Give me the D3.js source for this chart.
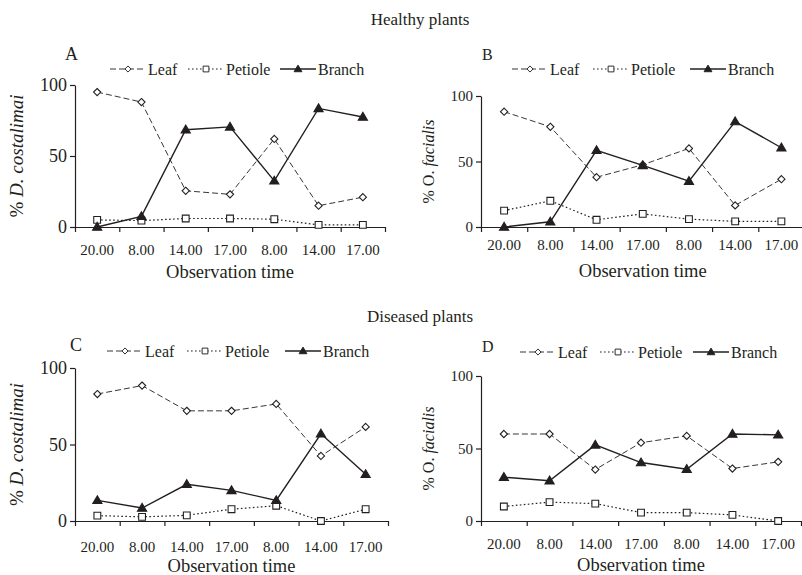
<!DOCTYPE html>
<html><head><meta charset="utf-8">
<script src="https://cdn.jsdelivr.net/npm/d3@7"></script>
<style>
html,body{margin:0;padding:0;background:#fff;}
svg{display:block;}
svg text{font-family:"Liberation Serif","Times New Roman",serif !important;}
</style></head>
<body>
<svg id="chart" width="802" height="575" font-family="Liberation Serif, serif"></svg>
<script>
// ---------- data ----------
const timeLabels = ["20.00", "8.00", "14.00", "17.00", "8.00", "14.00", "17.00"];
const yTicks = [0, 50, 100];
const seriesNames = ["Leaf", "Petiole", "Branch"];
const groupTitles = ["Healthy plants", "Diseased plants"];
const panelLetters = ["A", "B", "C", "D"];

// A: healthy, D. costalimai
const leafA    = [95, 88, 25.5, 23, 62, 15, 21];
const petioleA = [5, 4.5, 6, 6, 5.5, 1.5, 1.5];
const branchA  = [0, 7.5, 68.5, 70.5, 32.5, 83.5, 77.5];
// B: healthy, O. facialis
const leafB    = [88, 76.5, 38, 47.5, 60, 16.5, 36.5];
const petioleB = [12.5, 20, 5.5, 10, 6, 4.3, 4.3];
const branchB  = [0, 4, 58.5, 47, 35, 80.5, 60.5];
// C: diseased, D. costalimai
const leafC    = [83, 88.5, 72, 72, 76.5, 42.5, 61.5];
const petioleC = [3.5, 2.7, 3.7, 7.7, 10, 0, 7.7];
const branchC  = [13.5, 8.5, 24, 20, 13.5, 57, 30.5];
// D: diseased, O. facialis
const leafD    = [60, 60, 35.5, 54, 58.7, 36.2, 40.8];
const petioleD = [10, 13, 12, 5.8, 5.8, 4.2, 0];
const branchD  = [30.2, 27.8, 52.5, 40.3, 35.7, 60, 59.4];

// ---------- layout (positions/styles) ----------
const INK = "#231f20";
const FONT = "Liberation Serif, serif";
const panels = [
  {letter: panelLetters[0], species: "D. costalimai", data: [leafA, petioleA, branchA],
   x0: 75, x1: 385, yTop: 85, yBot: 227, yTickFont: 18, yLabelFont: 19, yLabelX: 16,
   tickBase: 255, titleBase: 278, letterPos: [65, 60], letterFont: 18,
   legendY: 69, legendX: [110, 188, 280]},
  {letter: panelLetters[1], species: "facialis", pre: "% O. ", data: [leafB, petioleB, branchB],
   x0: 481, x1: 804.5, yTop: 96, yBot: 227, yTickFont: 15, yLabelFont: 16, yLabelX: 428,
   tickBase: 250, titleBase: 277, letterPos: [482, 60], letterFont: 16,
   legendY: 69, legendX: [512, 593, 690]},
  {letter: panelLetters[2], species: "D. costalimai", data: [leafC, petioleC, branchC],
   x0: 75, x1: 388, yTop: 368, yBot: 521, yTickFont: 18, yLabelFont: 19, yLabelX: 16,
   tickBase: 552, titleBase: 572, letterPos: [70, 351], letterFont: 18,
   legendY: 351, legendX: [107, 187, 285]},
  {letter: panelLetters[3], species: "facialis", pre: "% O. ", data: [leafD, petioleD, branchD],
   x0: 481, x1: 801, yTop: 376, yBot: 521, yTickFont: 15, yLabelFont: 16, yLabelX: 428,
   tickBase: 549, titleBase: 571, letterPos: [482, 352], letterFont: 16,
   legendY: 352, legendX: [520, 600, 693]}
];
const styles = [
  {dash: "6,3", width: 0.9, marker: "diamond"},
  {dash: "1.6,2.4", width: 1.2, marker: "square"},
  {dash: null, width: 1.4, marker: "triangle"}
];
const markerPath = {
  diamond: "M0,-3.6L3.6,0L0,3.6L-3.6,0Z",
  square: "M-3.4,-3.4H3.4V3.4H-3.4Z",
  triangle: "M0,-4.6L4.6,3.2H-4.6Z"
};

const svg = d3.select("#chart");
svg.append("rect").attr("width", 802).attr("height", 575).attr("fill", "#fff");

function txt(parent) {
  return parent.append("text").attr("font-family", FONT).attr("fill", INK);
}

// group titles
txt(svg).attr("x", 420).attr("y", 25).attr("text-anchor", "middle")
  .attr("font-size", 17).text(groupTitles[0]);
txt(svg).attr("x", 420).attr("y", 322).attr("text-anchor", "middle")
  .attr("font-size", 17).text(groupTitles[1]);

function drawMarker(g, type, filled) {
  return g.append("path").attr("d", markerPath[type])
    .attr("fill", filled ? INK : "#fff").attr("stroke", INK).attr("stroke-width", 1.1);
}

panels.forEach(p => {
  const g = svg.append("g").attr("font-family", FONT);
  const idx = d3.range(timeLabels.length);
  const xBand = d3.scaleBand().domain(idx).range([p.x0, p.x1]).padding(0);
  const xLin = d3.scaleLinear().domain([0, timeLabels.length]).range([p.x0, p.x1]);
  const y = d3.scaleLinear().domain([0, 100]).range([p.yBot, p.yTop]);

  // y axis
  const ya = g.append("g").attr("transform", `translate(${p.x0},0)`)
    .call(d3.axisLeft(y).tickValues(yTicks).tickSize(5).tickSizeOuter(0).tickPadding(3));
  ya.attr("font-family", FONT);
  ya.selectAll("text").attr("font-size", p.yTickFont).attr("font-family", FONT).attr("fill", INK);
  ya.selectAll("line,path").attr("stroke", INK).attr("stroke-width", 1.2);

  // x axis: boundary ticks
  const xa = g.append("g").attr("transform", `translate(0,${p.yBot})`)
    .call(d3.axisBottom(xLin).tickValues(d3.range(timeLabels.length + 1)).tickSize(5)
      .tickSizeOuter(0).tickFormat(""));
  xa.selectAll("line,path").attr("stroke", INK).attr("stroke-width", 1.2);
  // x labels at band centres
  const xl = g.append("g").attr("transform", `translate(0,${p.yBot})`)
    .call(d3.axisBottom(xBand).tickSize(0).tickFormat(i => timeLabels[i]));
  xl.attr("font-family", FONT);
  xl.select("path").remove();
  xl.selectAll("text").attr("y", p.tickBase - p.yBot).attr("dy", 0)
    .attr("font-size", 15).attr("font-family", FONT).attr("fill", INK);

  // axis titles
  const cx = (p.x0 + p.x1) / 2;
  txt(g).attr("x", cx).attr("y", p.titleBase).attr("text-anchor", "middle")
    .attr("font-size", 18.5).text("Observation time");
  const cy = (p.yTop + p.yBot) / 2;
  const yt = txt(g).attr("transform", `translate(${p.yLabelX},${cy}) rotate(-90)`)
    .attr("text-anchor", "middle").attr("dominant-baseline", "central")
    .attr("font-size", p.yLabelFont);
  yt.append("tspan").text(p.pre ? p.pre : "% ");
  yt.append("tspan").attr("font-style", "italic").text(p.species);

  // panel letter
  txt(g).attr("x", p.letterPos[0]).attr("y", p.letterPos[1])
    .attr("font-size", p.letterFont).text(p.letter);

  // series
  const cxOf = i => xBand(i) + xBand.bandwidth() / 2;
  p.data.forEach((vals, s) => {
    const st = styles[s];
    const line = d3.line().x((d, i) => cxOf(i)).y(d => y(d));
    g.append("path").datum(vals).attr("d", line).attr("fill", "none")
      .attr("stroke", INK).attr("stroke-width", st.width)
      .attr("stroke-dasharray", st.dash);
    vals.forEach((v, i) => {
      drawMarker(g, st.marker, st.marker === "triangle")
        .attr("transform", `translate(${cxOf(i)},${y(v)})`);
    });
  });

  // legend
  seriesNames.forEach((name, s) => {
    const st = styles[s];
    const lx = p.legendX[s];
    const len = 36;
    g.append("line").attr("x1", lx).attr("x2", lx + len).attr("y1", p.legendY).attr("y2", p.legendY)
      .attr("stroke", INK).attr("stroke-width", st.width).attr("stroke-dasharray", st.dash);
    drawMarker(g, st.marker, st.marker === "triangle")
      .attr("transform", `translate(${lx + len / 2},${p.legendY}) scale(0.85)`);
    txt(g).attr("x", lx + len + 2).attr("y", p.legendY + 5.5)
      .attr("font-size", 16).text(name);
  });
});
</script>
</body></html>
